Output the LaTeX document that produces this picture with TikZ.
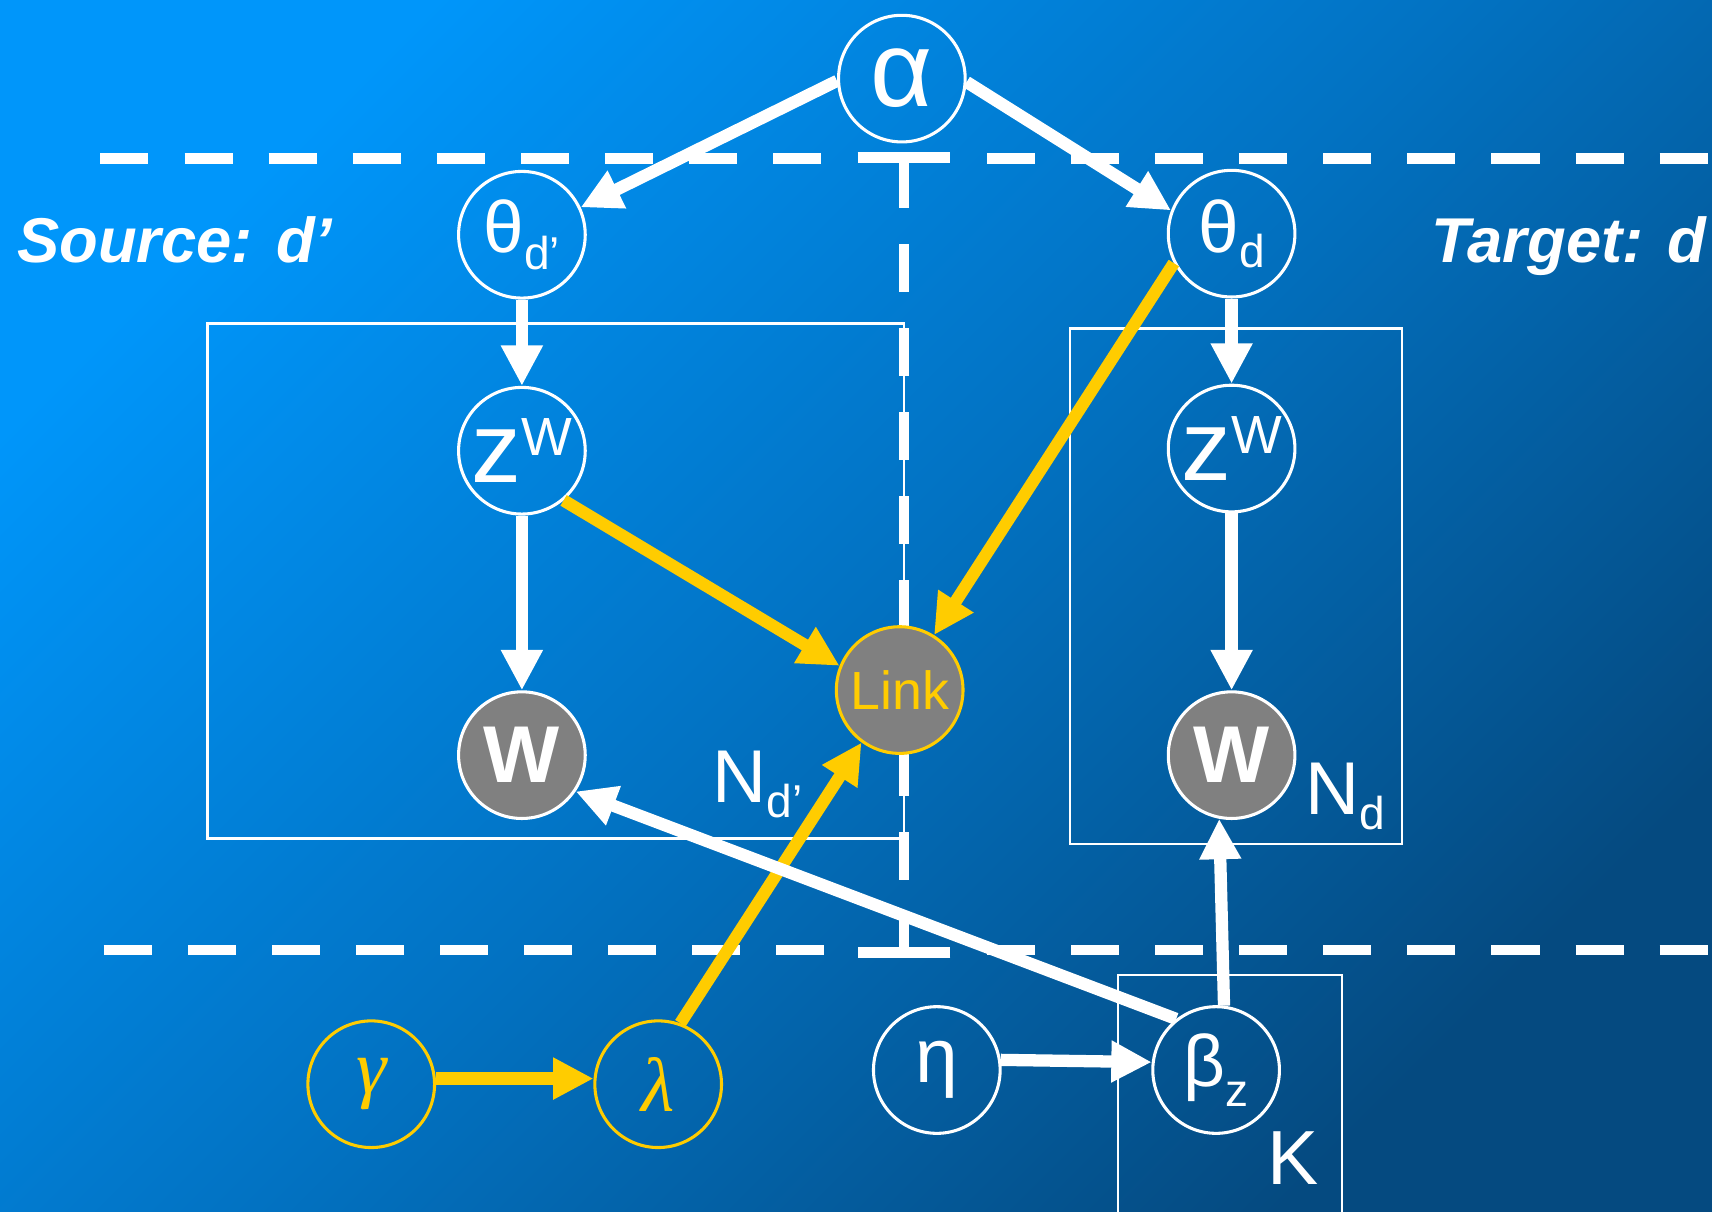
\documentclass[tikz,border=0pt]{standalone}
\usepackage{fontspec}
\setmainfont{Liberation Sans}
\newfontfamily\greekserif{Liberation Serif}
\usepackage{xcolor}
\usetikzlibrary{arrows.meta, positioning, calc}
\definecolor{SlideTop}{RGB}{0,150,250}
\definecolor{SlideMid}{RGB}{2,114,194}
\definecolor{SlideBottom}{RGB}{5,74,128}
\definecolor{LinkGold}{RGB}{255,204,0}
\definecolor{WordGray}{RGB}{128,128,128}
\newcommand{\sizept}[1]{\fontsize{#1}{#1}\selectfont}
\newcommand{\lowsub}[2]{\raisebox{-#1}{\sizept{12}#2}}

\begin{document}
\begin{tikzpicture}[
    varnode/.style={circle, draw=white, line width=0.8pt, minimum size=1.16cm,
                    inner sep=0pt, text=white},
    obsnode/.style={varnode, fill=WordGray},
    hypnode/.style={varnode, draw=LinkGold, text=LinkGold},
    plate/.style={draw=white, line width=0.7pt},
    divider/.style={white, line width=2.8pt, dash pattern=on 0.44cm off 0.33cm},
    platelabel/.style={text=white, inner sep=0pt, font=\sizept{19.5}},
    sidelabel/.style={text=white, inner sep=0pt, font=\sizept{16.5}\bfseries\itshape},
    arrow/.style={-{Triangle[length=0.37cm, width=0.36cm]}, line width=3.2pt, white},
    goldarrow/.style={arrow, LinkGold}
  ]
    \useasboundingbox (0,0) rectangle (15.68,11.10);
    \shade[top color=SlideTop, bottom color=SlideBottom, middle color=SlideMid,
           shading angle=45] (0,0) rectangle (15.68,11.10);

    % Dividers
    \draw[divider] (0.92,9.65) -- (7.52,9.65);
    \draw[divider] (9.04,9.65) -- (15.68,9.65);
    \draw[divider] (0.95,2.40) -- (7.55,2.40);
    \draw[divider] (9.04,2.40) -- (15.68,2.40);
    \draw[divider, {Bar[width=0.85cm]}-{Bar[width=0.85cm]}] (8.28,9.71) -- (8.28,2.33);

    % Plates
    \draw[plate] (1.90,8.14) rectangle (8.28,3.42);
    \draw[plate] (9.80,8.09) rectangle (12.84,3.37);
    \draw[plate] (10.24,2.17) rectangle (12.29,-0.20);

    % Document side
    \node[varnode] (alpha) at (8.26,10.38) {\sizept{28}α};
    \node[varnode] (thetaS) at (4.78,8.95) {\sizept{19}θ\lowsub{4.5pt}{d’}};
    \node[varnode, below=0.79cm of thetaS] (zS) {\sizept{26}z\raisebox{7pt}{\sizept{14}W}};
    \node[obsnode, below=1.60cm of zS] (wS) {\sizept{21}\bfseries W};
    \node[varnode] (thetaT) at (11.28,8.96) {\sizept{19}θ\lowsub{4pt}{d}};
    \node[varnode, below=0.78cm of thetaT] (zT) {\sizept{26}z\raisebox{7pt}{\sizept{14}W}};
    \node[obsnode, below=1.62cm of zT] (wT) {\sizept{21}\bfseries W};
    \node[obsnode, draw=LinkGold, text=LinkGold] (link) at (8.24,4.78) {\sizept{14}Link};

    % Link and topic priors
    \node[hypnode] (gamma) at (3.40,1.17) {\greekserif\itshape\sizept{20}γ};
    \node[hypnode, right=1.44cm of gamma] (lambda) {\greekserif\itshape\sizept{20}λ};
    \node[varnode] (eta) at (8.58,1.30) {\sizept{20}η};
    \node[varnode, right=1.37cm of eta] (beta) {\sizept{19}β\lowsub{5pt}{z}};

    % Labels
    \node[sidelabel, anchor=base west] (srclabel) at (0.15,8.70) {Source: d’};
    \node[sidelabel, anchor=base east] (tgtlabel) at (15.63,8.70) {Target: d};
    \node[platelabel, anchor=base west] (nsrc) at (6.52,3.75) {N\lowsub{4pt}{d’}};
    \node[platelabel, anchor=base west] (ntgt) at (11.95,3.64) {N\lowsub{4pt}{d}};
    \node[platelabel, anchor=base west, font=\sizept{20}] (ktopics) at (11.60,0.25) {K};

    % Arrows
    \draw[arrow] (alpha.182) -- (thetaS.25);
    \draw[arrow] (alpha.-3) -- (thetaT.159);
    \draw[arrow] (thetaS) -- (zS);
    \draw[arrow] (zS) -- (wS);
    \draw[arrow] (thetaT) -- (zT);
    \draw[arrow] (zT) -- (wT);
    \draw[goldarrow] (zS.-50) -- (link.158);
    \draw[goldarrow] (thetaT.-153) -- (link.58);
    \draw[goldarrow] (lambda.70) -- (link.-126);
    \draw[goldarrow] (gamma.5) -- (lambda.175);
    \draw[arrow] (eta.9) -- (beta.173);
    \draw[arrow] (beta.83) -- (wT.-101);
    \draw[arrow] (beta.128) -- (wS.-34);

  \end{tikzpicture}
\end{document}
